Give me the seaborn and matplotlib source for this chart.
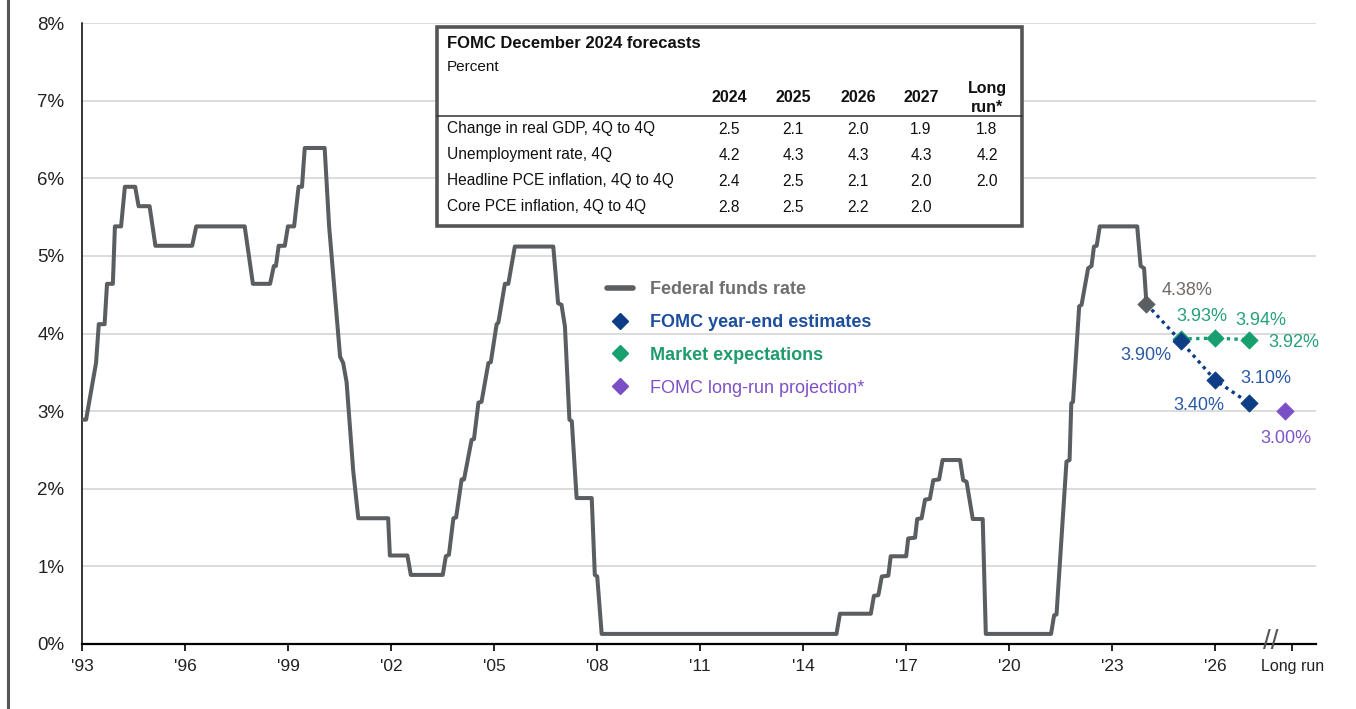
import matplotlib.pyplot as plt
from matplotlib.lines import Line2D
from matplotlib.patches import Rectangle
import pandas as pd
import seaborn as sns

# Federal funds rate (decimal year, percent)
ff_years = [1993.02, 1993.11, 1993.40, 1993.48, 1993.65, 1993.72, 1993.89, 1993.95,
            1994.13, 1994.24, 1994.54, 1994.64, 1994.96, 1995.13, 1996.20, 1996.32,
            1997.73, 1997.97, 1998.47, 1998.58, 1998.64, 1998.72, 1998.90, 1998.99,
            1999.17, 1999.30, 1999.40, 1999.48, 2000.06, 2000.19, 2000.51, 2000.60,
            2000.70, 2000.89, 2001.04, 2001.91, 2001.96, 2002.47, 2002.57, 2003.50,
            2003.59, 2003.68, 2003.81, 2003.89, 2004.05, 2004.12, 2004.34, 2004.41,
            2004.54, 2004.63, 2004.83, 2004.90, 2005.07, 2005.12, 2005.31, 2005.41,
            2005.60, 2006.72, 2006.86, 2006.96, 2007.06, 2007.19, 2007.26, 2007.40,
            2007.84, 2007.93, 2008.00, 2008.13, 2014.97, 2015.07, 2015.97, 2016.06,
            2016.19, 2016.29, 2016.48, 2016.55, 2017.00, 2017.06, 2017.26, 2017.32,
            2017.45, 2017.55, 2017.69, 2017.79, 2017.96, 2018.06, 2018.57, 2018.66,
            2018.76, 2018.94, 2019.23, 2019.32, 2021.22, 2021.31, 2021.38, 2021.67,
            2021.76, 2021.81, 2021.86, 2022.04, 2022.11, 2022.30, 2022.40, 2022.47,
            2022.55, 2022.64, 2023.73, 2023.83, 2023.93, 2024.00]
ff_rates = [2.89, 2.89, 3.62, 4.12, 4.12, 4.64, 4.64, 5.38,
            5.38, 5.89, 5.89, 5.64, 5.64, 5.13, 5.13, 5.38,
            5.38, 4.64, 4.64, 4.87, 4.87, 5.13, 5.13, 5.38,
            5.38, 5.89, 5.89, 6.39, 6.39, 5.38, 3.70, 3.62,
            3.37, 2.24, 1.62, 1.62, 1.14, 1.14, 0.89, 0.89,
            1.13, 1.15, 1.62, 1.63, 2.12, 2.12, 2.63, 2.64,
            3.11, 3.12, 3.62, 3.63, 4.12, 4.14, 4.64, 4.64,
            5.12, 5.12, 4.39, 4.37, 4.09, 2.89, 2.87, 1.88,
            1.88, 0.89, 0.87, 0.13, 0.13, 0.39, 0.39, 0.62,
            0.63, 0.87, 0.88, 1.13, 1.13, 1.36, 1.37, 1.61,
            1.62, 1.86, 1.87, 2.11, 2.12, 2.37, 2.37, 2.11,
            2.09, 1.61, 1.61, 0.13, 0.13, 0.37, 0.38, 2.35,
            2.37, 3.10, 3.12, 4.35, 4.37, 4.84, 4.87, 5.12,
            5.13, 5.38, 5.38, 4.87, 4.84, 4.38]

fomc_years = [2024, 2025, 2026, 2027]
fomc_rates = [4.38, 3.90, 3.40, 3.10]
market_years = [2025, 2026, 2027]
market_rates = [3.93, 3.94, 3.92]
longrun_x = 2028.05
longrun_rate = 3.00

year_ticks = list(range(1993, 2027, 3))
year_labels = ["'%02d" % (y % 100) for y in year_ticks]
longrun_tick = 2028.25
pct_ticks = list(range(0, 9))
pct_labels = ['%d%%' % p for p in pct_ticks]

table_cols = ['2024', '2025', '2026', '2027', 'Long\nrun*']
table_rows = ['Change in real GDP, 4Q to 4Q', 'Unemployment rate, 4Q',
              'Headline PCE inflation, 4Q to 4Q', 'Core PCE inflation, 4Q to 4Q']
table_vals = [['2.5', '2.1', '2.0', '1.9', '1.8'],
              ['4.2', '4.3', '4.3', '4.3', '4.2'],
              ['2.4', '2.5', '2.1', '2.0', '2.0'],
              ['2.8', '2.5', '2.2', '2.0', '']]

GRAY = '#5b5e61'
BLUE = '#0d3d85'
GREEN = '#17a06e'
PURPLE = '#7a4fc6'

sns.set_theme(style='white')
plt.rcParams['font.family'] = ['Liberation Sans', 'DejaVu Sans']

W, H = 1356, 709
fig = plt.figure(figsize=(W / 100, H / 100), dpi=100)
ax = fig.add_axes([82.3 / W, 1 - 644 / H, (1315.7 - 82.3) / W, (644 - 23) / H])


def fx(x, y):
    # pixel position -> figure fraction
    return x / W, 1 - y / H


# fed funds line
df = pd.DataFrame({'year': ff_years, 'rate': ff_rates})
sns.lineplot(data=df, x='year', y='rate', color=GRAY, lw=2.9, sort=False,
             estimator=None, ax=ax, zorder=3)
sns.scatterplot(x=[ff_years[-1]], y=[ff_rates[-1]], marker='D', s=75, color=GRAY,
                edgecolor=GRAY, ax=ax, zorder=6)

# projections
ax.plot(market_years, market_rates, color=GREEN, lw=2.4, dashes=(1, 1.3), zorder=4)
sns.scatterplot(x=market_years, y=market_rates, marker='D', s=75, color=GREEN,
                edgecolor=GREEN, ax=ax, zorder=5)
ax.plot(fomc_years, fomc_rates, color=BLUE, lw=2.4, dashes=(1, 1.3), zorder=4)
sns.scatterplot(x=fomc_years[1:], y=fomc_rates[1:], marker='D', s=75, color=BLUE,
                edgecolor=BLUE, ax=ax, zorder=6)
sns.scatterplot(x=[longrun_x], y=[longrun_rate], marker='D', s=75, color=PURPLE,
                edgecolor=PURPLE, ax=ax, zorder=6)

# value labels
lab_kw = dict(textcoords='offset points', ha='center', va='center', fontsize=13)
ax.annotate('%.2f%%' % ff_rates[-1], (ff_years[-1], ff_rates[-1]), xytext=(29, 10),
            color='#6f6a66', **lab_kw)
fomc_offsets = [(-25, -10), (-12, -18), (12, 18)]
for x, y, off in zip(fomc_years[1:], fomc_rates[1:], fomc_offsets):
    ax.annotate('%.2f%%' % y, (x, y), xytext=off, color='#2a5aa5', **lab_kw)
market_offsets = [(15, 16), (33, 13), (32, -2)]
for x, y, off in zip(market_years, market_rates, market_offsets):
    ax.annotate('%.2f%%' % y, (x, y), xytext=off, color='#26a07a', **lab_kw)
ax.annotate('%.2f%%' % longrun_rate, (longrun_x, longrun_rate), xytext=(0, -20),
            color='#7d55c8', **lab_kw)

# axes styling
ax.set_xlim(1993, 2028.93)
ax.set_ylim(0, 8)
ax.set_yticks(pct_ticks)
ax.set_yticklabels(pct_labels)
ax.set_xticks(year_ticks + [longrun_tick])
ax.set_xticklabels(year_labels + ['Long run'])
ax.set_xlabel('')
ax.set_ylabel('')
ax.grid(axis='y', color='#d2d2d2', lw=1.1)
ax.grid(axis='x', visible=False)
ax.set_axisbelow(True)
for s in ['top', 'right']:
    ax.spines[s].set_visible(False)
ax.spines['left'].set_color('black')
ax.spines['left'].set_linewidth(1.1)
ax.spines['bottom'].set_color('black')
ax.spines['bottom'].set_linewidth(1.6)
ax.tick_params(axis='y', length=0, pad=13, labelsize=13.5, labelcolor='#222222')
ax.tick_params(axis='x', length=5, width=1.2, color='black', direction='out',
               bottom=True, pad=6, labelsize=12.5, labelcolor='#222222')
ax.get_xticklabels()[-1].set_fontsize(11.5)
ax.text(2027.62, 0.02, '//', ha='center', va='center', fontsize=20, color='#555555',
        clip_on=False, zorder=7)

# legend
handles = [Line2D([], [], color=GRAY, lw=4),
           Line2D([], [], color=BLUE, marker='D', ls='none', ms=8.5),
           Line2D([], [], color=GREEN, marker='D', ls='none', ms=8.5),
           Line2D([], [], color=PURPLE, marker='D', ls='none', ms=8.5)]
labels = ['Federal funds rate', 'FOMC year-end estimates', 'Market expectations',
          'FOMC long-run projection*']
leg = ax.legend(handles, labels, loc='upper left', bbox_to_anchor=fx(607, 281),
                bbox_transform=fig.transFigure, frameon=False, fontsize=13,
                labelspacing=0.88, handlelength=1.45, handletextpad=0.95,
                borderpad=0, borderaxespad=0,
                labelcolor=['#6f6f6f', '#1d4f9c', '#1f9c6c', '#8050c8'])
for t in leg.get_texts()[:3]:
    t.set_fontweight('bold')

# forecast table
fig.add_artist(Rectangle(fx(437, 226), (1022 - 437) / W, (226 - 27) / H,
                         transform=fig.transFigure, facecolor='white',
                         edgecolor='#555555', lw=2.6, zorder=2))
fig.add_artist(Line2D([437 / W, 1022 / W], [1 - 116 / H] * 2, color='#333333',
                      lw=1.1, transform=fig.transFigure, zorder=3))
fig.text(*fx(447, 43), 'FOMC December 2024 forecasts', fontsize=12, fontweight='bold',
         va='center', ha='left', color='#111111')
fig.text(*fx(447, 67), 'Percent', fontsize=11, va='center', ha='left', color='#111111')
col_x = [729, 793, 858, 921, 987]
for cx, col in zip(col_x, table_cols):
    fig.text(*fx(cx, 98), col, fontsize=11.5, fontweight='bold', ha='center',
             va='center', linespacing=1.25, color='#111111')
row_y = [129, 155, 181, 207]
for ry, name, vals in zip(row_y, table_rows, table_vals):
    fig.text(*fx(447, ry), name, fontsize=11.2, ha='left', va='center', color='#111111')
    for cx, v in zip(col_x, vals):
        fig.text(*fx(cx, ry), v, fontsize=11.2, ha='center', va='center', color='#111111')

# left page border
fig.add_artist(Line2D([7.5 / W] * 2, [0, 1], color='#555555', lw=2.2,
                      transform=fig.transFigure))

fig.savefig('out.png', dpi=100)
